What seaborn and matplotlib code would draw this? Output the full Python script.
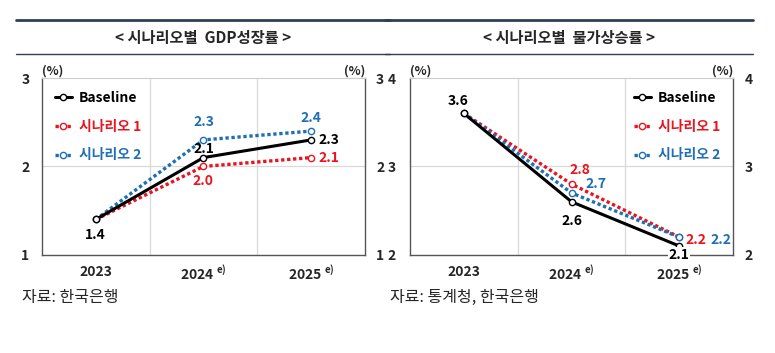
import numpy as np
import pandas as pd
import matplotlib
matplotlib.use("Agg")
import matplotlib.pyplot as plt
import seaborn as sns
from matplotlib.lines import Line2D

# data
years = ["2023", "2024", "2025"]
tick_labels = ["2023", "2024$^{\\ \\mathregular{e)}}$", "2025$^{\\ \\mathregular{e)}}$"]
series_names = ["Baseline", "시나리오 1", "시나리오 2"]
gdp_base = [1.4, 2.1, 2.3]
gdp_s1 = [1.4, 2.0, 2.1]
gdp_s2 = [1.4, 2.3, 2.4]
cpi_base = [3.6, 2.6, 2.1]
cpi_s1 = [3.6, 2.8, 2.2]
cpi_s2 = [3.6, 2.7, 2.2]

sns.set_style("white")
plt.rcParams['font.family'] = ['Noto Sans CJK KR', 'DejaVu Sans']

colors = {"Baseline": "#000000", "시나리오 1": "#e8141e", "시나리오 2": "#1f6fb5"}


def make_df(b, s1, s2):
    rows = []
    for name, vals in zip(series_names, [b, s1, s2]):
        for i, v in enumerate(vals):
            rows.append({"x": i, "year": years[i], "series": name, "value": v})
    return pd.DataFrame(rows)


gdp = make_df(gdp_base, gdp_s1, gdp_s2)
cpi = make_df(cpi_base, cpi_s1, cpi_s2)

fig = plt.figure(figsize=(7.75, 3.53), dpi=100)
ax1 = fig.add_axes([0.054, 0.278, 0.417, 0.501])
ax2 = fig.add_axes([0.529, 0.278, 0.417, 0.501])

# header lines and titles
navy = "#2e3f55"
fig.add_artist(Line2D([0.021, 0.503], [0.943, 0.943], color=navy, lw=2))
fig.add_artist(Line2D([0.497, 0.971], [0.943, 0.943], color=navy, lw=2))
fig.add_artist(Line2D([0.021, 0.503], [0.847, 0.847], color=navy, lw=1))
fig.add_artist(Line2D([0.497, 0.971], [0.847, 0.847], color=navy, lw=1))
fig.text(0.262, 0.892, "< 시나리오별  GDP성장률 >", ha="center", va="center",
         fontsize=11, fontweight="bold")
fig.text(0.734, 0.892, "< 시나리오별  물가상승률 >", ha="center", va="center",
         fontsize=11, fontweight="bold")


def draw(ax, df, ylim, legend_loc, labels, lpad, rpad):
    for name in series_names:
        sub = df[df.series == name]
        sns.lineplot(data=sub, x="x", y="value", ax=ax, color=colors[name],
                     lw=2.2 if name == "Baseline" else 2.4,
                     linestyle="-" if name == "Baseline" else (0, (1, 0.8)),
                     marker="o", markersize=4.5, markerfacecolor="white",
                     markeredgecolor=colors[name], markeredgewidth=1,
                     label=name, zorder=3 if name == "Baseline" else 2)
    ax.set_xlim(-0.5, 2.5)
    ax.set_ylim(*ylim)
    ax.set_xticks([0, 1, 2])
    ax.set_xticklabels(tick_labels, fontsize=10, fontweight="bold")
    ax.set_yticks([ylim[0], ylim[0] + 1, ylim[1]])
    ax.set_yticklabels([str(t) for t in range(ylim[0], ylim[1] + 1)],
                       fontsize=10, fontweight="bold")
    ax.tick_params(axis="y", length=0, pad=lpad)
    ax.tick_params(axis="x", length=0, pad=7)
    ax.set_xlabel("")
    ax.set_ylabel("")
    for v in [0.5, 1.5]:
        ax.axvline(v, color="#d9d9d9", lw=0.9, zorder=0)
    ax.axhline(ylim[0] + 1, color="#d9d9d9", lw=0.9, zorder=0)
    for s in ["left", "bottom", "right"]:
        ax.spines[s].set_color("#555555")
        ax.spines[s].set_linewidth(1)
    ax.spines["top"].set_color("#cccccc")
    ax.spines["top"].set_linewidth(0.8)
    twin = ax.twinx()
    twin.set_ylim(*ylim)
    twin.set_yticks([ylim[0], ylim[0] + 1, ylim[1]])
    twin.set_yticklabels([str(t) for t in range(ylim[0], ylim[1] + 1)],
                         fontsize=10, fontweight="bold")
    twin.tick_params(axis="y", length=0, pad=rpad)
    for s in twin.spines.values():
        s.set_visible(False)
    ax.text(0, 1.0, "(%)", transform=ax.transAxes, fontsize=9, fontweight="bold",
            ha="left", va="bottom")
    ax.text(1.0, 1.0, "(%)", transform=ax.transAxes, fontsize=9, fontweight="bold",
            ha="right", va="bottom")
    leg = ax.legend(loc=legend_loc, frameon=False,
                    prop={"weight": "bold", "size": 10}, handlelength=1.2,
                    handletextpad=0.5, labelspacing=1.05, borderaxespad=0.55)
    for txt, name in zip(leg.get_texts(), series_names):
        txt.set_color(colors[name])
    for (x, y, s, c, ha, va, bg) in labels:
        t = ax.text(x, y, s, color=c, fontsize=10, fontweight="bold", ha=ha, va=va,
                    zorder=5, clip_on=False)
        if bg:
            t.set_bbox(dict(facecolor="white", edgecolor="none", pad=0.3))


draw(ax1, gdp, (1, 3), "upper left", [
    (0, gdp_base[0] - 0.1, "1.4", "black", "center", "top", False),
    (1, gdp_base[1] + 0.02, "2.1", "black", "center", "bottom", False),
    (1, gdp_s1[1] - 0.08, "2.0", colors["시나리오 1"], "center", "top", False),
    (1, gdp_s2[1] + 0.12, "2.3", colors["시나리오 2"], "center", "bottom", False),
    (2.07, gdp_base[2], "2.3", "black", "left", "center", False),
    (2.07, gdp_s1[2], "2.1", colors["시나리오 1"], "left", "center", False),
    (2, gdp_s2[2] + 0.07, "2.4", colors["시나리오 2"], "center", "bottom", False),
], 9, 8)
draw(ax2, cpi, (2, 4), "upper right", [
    (-0.05, cpi_base[0] + 0.06, "3.6", "black", "center", "bottom", False),
    (1, cpi_base[1] - 0.14, "2.6", "black", "center", "top", False),
    (1.08, cpi_s1[1] + 0.08, "2.8", colors["시나리오 1"], "center", "bottom", False),
    (1.13, cpi_s2[1] + 0.02, "2.7", colors["시나리오 2"], "left", "bottom", False),
    (2, cpi_base[0] * 0 + 2.0, "2.1", "black", "center", "center", True),
    (2.06, cpi_s1[2] - 0.03, "2.2", colors["시나리오 1"], "left", "center", False),
    (2.29, cpi_s2[2] - 0.03, "2.2", colors["시나리오 2"], "left", "center", False),
], 10, 8)

fig.text(0.028, 0.157, "자료: 한국은행", fontsize=11.5, ha="left", va="center")
fig.text(0.503, 0.157, "자료: 통계청, 한국은행", fontsize=11.5, ha="left", va="center")

plt.savefig("out.png", dpi=100)
